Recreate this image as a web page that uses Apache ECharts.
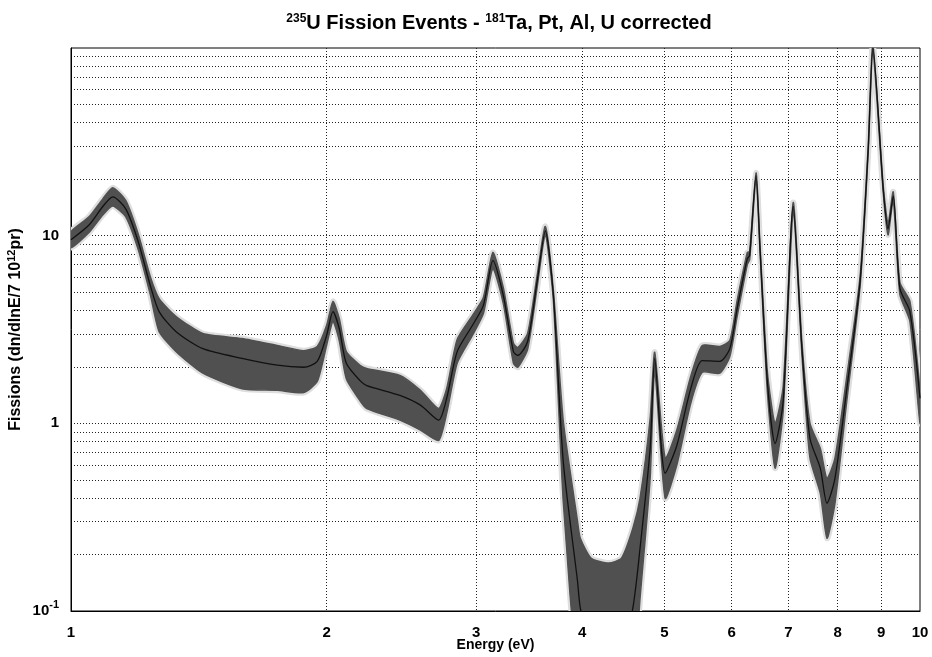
<!DOCTYPE html>
<html>
<head>
<meta charset="utf-8">
<script src="https://cdn.jsdelivr.net/npm/echarts@6/dist/echarts.min.js"></script>
<style>html,body{margin:0;padding:0;background:#fff}#c{width:932px;height:657px}</style>
</head>
<body>
<div id="c"></div>
<script>
// Energy (eV)
const energy = [1.00,1.05,1.09,1.12,1.16,1.20,1.24,1.27,1.33,1.43,1.59,1.75,1.88,1.95,2.00,2.035,2.07,2.11,2.19,2.23,2.44,2.58,2.71,2.77,2.85,2.97,3.06,3.14,3.23,3.32,3.36,3.45,3.54,3.62,3.70,3.80,3.95,3.98,4.10,4.30,4.45,4.59,4.68,4.81,4.87,5.01,5.17,5.37,5.54,5.81,5.97,6.09,6.26,6.30,6.41,6.48,6.61,6.75,6.90,7.09,7.26,7.42,7.63,7.77,7.94,8.20,8.50,8.69,8.80,9.05,9.17,9.30,9.47,9.73,10.0];
// Fitted curve (fissions)
const fitValues = [9.52,11.4,14.3,16.1,13.9,9.29,5.42,3.94,3.08,2.50,2.22,2.04,1.99,2.14,2.94,3.94,3.20,2.09,1.69,1.59,1.41,1.25,1.04,1.36,2.41,3.32,4.25,7.36,4.80,2.41,2.30,2.73,5.69,10.6,4.80,0.628,0.144,0.104,0.06,0.05,0.06,0.104,0.216,0.736,2.22,0.542,0.76,1.53,2.16,2.14,2.50,4.09,7.55,7.83,20.9,8.53,1.67,0.78,1.31,14.3,2.50,0.83,0.577,0.375,0.509,1.53,5.69,29.0,100,17.8,10.9,16.3,5.22,3.94,1.36];
// Upper / lower envelope of the measured (noisy) data
const bandHigh = [10.5,12.6,15.7,18.0,15.4,10.2,6.05,4.62,3.71,3.01,2.83,2.60,2.44,2.57,3.32,4.46,3.62,2.41,2.04,1.96,1.80,1.50,1.20,1.53,2.80,3.75,4.68,8.13,5.28,2.67,2.54,3.01,6.12,11.2,5.09,1.03,0.301,0.244,0.191,0.180,0.191,0.276,0.399,1.06,2.39,0.652,0.918,1.78,2.60,2.57,2.76,4.51,8.13,8.22,21.6,8.85,1.89,1.00,1.57,15.0,2.70,1.00,0.736,0.509,0.652,1.78,6.05,30.1,104,18.5,11.6,17.1,5.62,4.46,1.50];
const bandLow = [8.63,10.4,12.9,14.4,12.6,8.43,4.85,3.08,2.41,1.85,1.53,1.50,1.46,1.67,2.60,3.49,2.76,1.73,1.32,1.20,1.04,0.92,0.81,1.13,2.09,2.94,3.85,6.67,4.35,2.09,1.99,2.48,5.28,10.1,4.51,0.385,0.04,0.04,0.04,0.04,0.04,0.04,0.117,0.509,1.91,0.399,0.598,1.28,1.87,1.85,2.27,3.71,7.01,7.45,20.1,8.22,1.48,0.577,1.16,13.6,2.33,0.652,0.425,0.244,0.375,1.32,5.36,28.0,98,17.1,10.1,15.5,4.85,3.49,1.00];
// Axis tick values
const xTickValues = [1,2,3,4,5,6,7,8,9,10];
const xGridValues = [2,3,4,5,6,7,8,9];
const yLabelValues = [0.1,1,10];
const yGridValues = [0.2,0.3,0.4,0.5,0.6,0.7,0.8,0.9,1,2,3,4,5,6,7,8,9,10,20,30,40,50,60,70,80,90];

const FONT = '"Liberation Sans", Arial, Helvetica, sans-serif';
const chart = echarts.init(document.getElementById('c'), null, {renderer: 'canvas'});

function bandItem(params, api) {
  const pts = [];
  for (let i = 0; i < energy.length; i++) pts.push(api.coord([energy[i], bandHigh[i]]));
  for (let i = energy.length - 1; i >= 0; i--) pts.push(api.coord([energy[i], bandLow[i]]));
  const cs = params.coordSys;
  return {
    type: 'group',
    children: [
      {type: 'polygon', shape: {points: pts, smooth: 0.2}, style: {fill: '#dedede', stroke: '#dedede', lineWidth: 6, lineJoin: 'round'}},
      {type: 'polygon', shape: {points: pts, smooth: 0.2}, style: {fill: '#505050', stroke: '#505050', lineWidth: 1.5, lineJoin: 'round'}}
    ],
    clipPath: {type: 'rect', shape: {x: cs.x, y: cs.y, width: cs.width, height: cs.height}}
  };
}

chart.setOption({
  animation: false,
  backgroundColor: '#fff',
  title: {
    text: '{sup|235}{m|U Fission Events - }{sup|181}{m|Ta, Pt, Al, U corrected}',
    left: 494, top: 8, textAlign: 'center',
    textStyle: {
      rich: {
        m: {fontFamily: FONT, fontWeight: 'bold', fontSize: 20, color: '#000'},
        sup: {fontFamily: FONT, fontWeight: 'bold', fontSize: 12, color: '#000', verticalAlign: 'top', padding: [0, 0, 9, 0]}
      }
    }
  },
  grid: {left: 71, right: 12, top: 48, bottom: 46, containLabel: false, outerBoundsMode: 'none',
    show: true, borderColor: '#000', borderWidth: 1, backgroundColor: 'transparent'},
  xAxis: {
    type: 'log', logBase: 10, min: 1, max: 10,
    name: 'Energy (eV)', nameLocation: 'middle', nameGap: 27, nameMoveOverlap: false,
    nameTextStyle: {fontFamily: FONT, fontWeight: 'bold', fontSize: 14, color: '#000'},
    axisLine: {show: true, lineStyle: {color: '#000', width: 1}},
    axisTick: {show: false, customValues: xGridValues},
    axisLabel: {customValues: xTickValues, margin: 14, fontFamily: FONT, fontWeight: 'bold', fontSize: 15, color: '#000',
      showMinLabel: true, showMaxLabel: true,
      formatter: v => String(Math.round(v))},
    splitLine: {show: true, lineStyle: {color: '#222', type: [1, 2], width: 1}},
    minorTick: {show: false}, minorSplitLine: {show: false}
  },
  yAxis: {
    type: 'log', logBase: 10, min: 0.1, max: 100,
    name: '{n|Fissions (dn/dlnE/7 10}{s|12}{n|pr)}', nameLocation: 'middle', nameGap: 45, nameRotate: 90, nameMoveOverlap: false,
    nameTextStyle: {
      rich: {
        n: {fontFamily: FONT, fontWeight: 'bold', fontSize: 16, color: '#000'},
        s: {fontFamily: FONT, fontWeight: 'bold', fontSize: 11, color: '#000', verticalAlign: 'top', padding: [0, 0, 9, 0]}
      }
    },
    axisLine: {show: true, lineStyle: {color: '#000', width: 1}},
    axisTick: {show: false, customValues: yGridValues},
    axisLabel: {customValues: yLabelValues, margin: 12,
      formatter: v => {
        if (Math.abs(v - 0.1) < 1e-6) return '{b|10}{s|-1}';
        return '{b|' + String(Math.round(v)) + '}';
      },
      rich: {
        b: {fontFamily: FONT, fontWeight: 'bold', fontSize: 15, color: '#000'},
        s: {fontFamily: FONT, fontWeight: 'bold', fontSize: 11, color: '#000', verticalAlign: 'top', padding: [0, 0, 12, 0]}
      }
    },
    splitLine: {show: true, lineStyle: {color: '#222', type: [1, 2], width: 1}}
  },
  series: [
    {
      type: 'custom', name: 'data',
      renderItem: bandItem,
      data: [[1, 1]],
      encode: {x: 0, y: 1},
      silent: true, z: 2
    },
    {
      type: 'line', name: 'fit',
      data: energy.map((e, i) => [e, fitValues[i]]),
      showSymbol: false, symbol: 'none', smooth: 0.25, clip: true,
      lineStyle: {color: '#111', width: 1.3}, z: 3
    }
  ]
});
</script>
</body>
</html>
